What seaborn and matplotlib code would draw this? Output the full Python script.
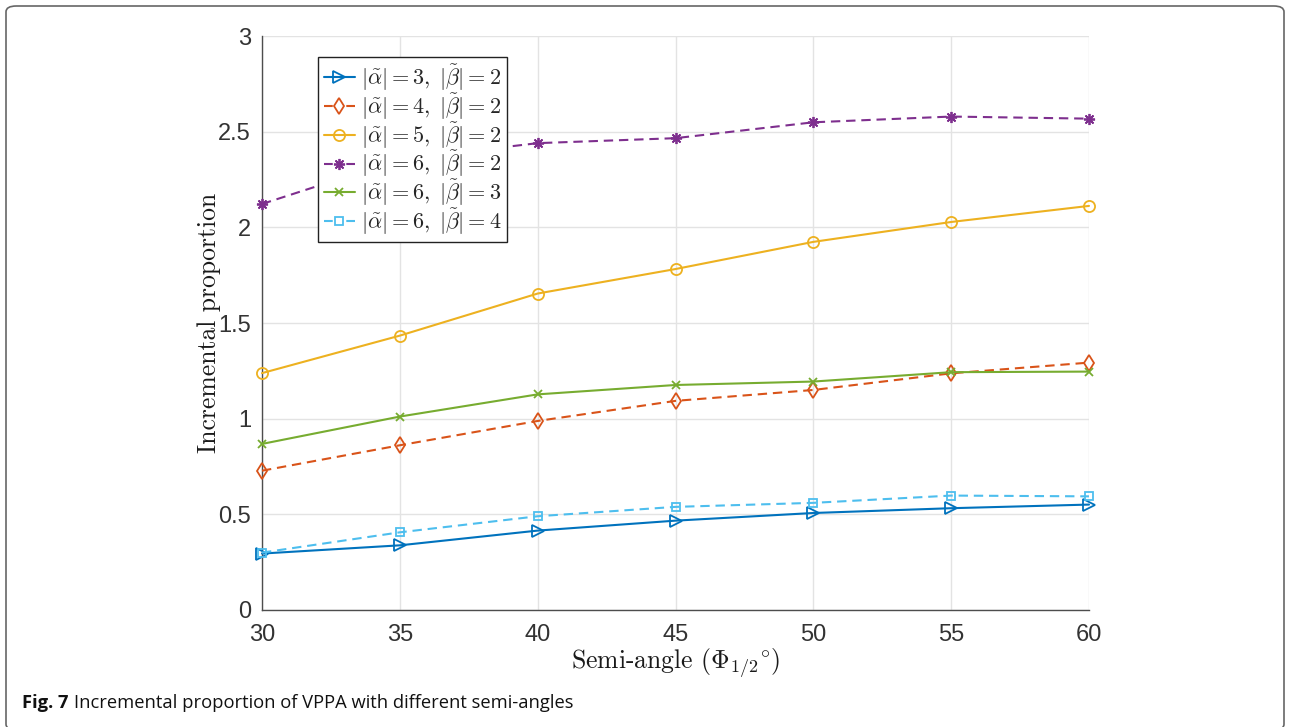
import numpy as np
import pandas as pd
import matplotlib
matplotlib.use("Agg")
import matplotlib.pyplot as plt
import seaborn as sns
from matplotlib.patches import FancyBboxPatch

# ---- data ----
angles = [30, 35, 40, 45, 50, 55, 60]
a3_b2 = [0.295, 0.338, 0.415, 0.467, 0.507, 0.532, 0.551]
a4_b2 = [0.728, 0.861, 0.988, 1.093, 1.150, 1.237, 1.293]
a5_b2 = [1.238, 1.434, 1.654, 1.782, 1.924, 2.028, 2.112]
a6_b2 = [2.122, 2.355, 2.440, 2.466, 2.549, 2.579, 2.568]
a6_b3 = [0.868, 1.011, 1.127, 1.176, 1.194, 1.243, 1.246]
a6_b4 = [0.300, 0.406, 0.490, 0.539, 0.560, 0.598, 0.594]

labels = [r'$|\tilde{\alpha}| = 3,\;|\tilde{\beta}| = 2$',
          r'$|\tilde{\alpha}| = 4,\;|\tilde{\beta}| = 2$',
          r'$|\tilde{\alpha}| = 5,\;|\tilde{\beta}| = 2$',
          r'$|\tilde{\alpha}| = 6,\;|\tilde{\beta}| = 2$',
          r'$|\tilde{\alpha}| = 6,\;|\tilde{\beta}| = 3$',
          r'$|\tilde{\alpha}| = 6,\;|\tilde{\beta}| = 4$']
series = [a3_b2, a4_b2, a5_b2, a6_b2, a6_b3, a6_b4]
xticks = [30, 35, 40, 45, 50, 55, 60]
yticks = [0, 0.5, 1, 1.5, 2, 2.5, 3]
ytick_labels = ['0', '0.5', '1', '1.5', '2', '2.5', '3']

# ---- styles ----
colors = ['#0072BD', '#D95319', '#EDB120', '#7E2F8E', '#77AC30', '#4DBEEE']
markers = ['>', 'd', 'o', (8, 2, 0), 'x', 's']
msizes = [8, 8.5, 8, 8, 6, 6]
dash = (0, (4.5, 2.8))
styles = ['-', dash, '-', dash, '-', dash]
dashed = [False, True, False, True, False, True]

sns.set_style("white")
plt.rcParams['font.family'] = ['Liberation Sans', 'DejaVu Sans']
plt.rcParams['mathtext.fontset'] = 'cm'

fig = plt.figure(figsize=(12.9, 7.27), dpi=100)
W, H = 1290, 727
ax = fig.add_axes([262 / W, 1 - 610 / H, 827 / W, 574 / H])

df = pd.DataFrame({'angle': angles})
for i, (vals, lab) in enumerate(zip(series, labels)):
    df['val'] = vals
    sns.lineplot(data=df, x='angle', y='val', ax=ax, color=colors[i],
                 marker=markers[i], markersize=msizes[i], linestyle=styles[i],
                 linewidth=1.5, markerfacecolor='none', markeredgecolor=colors[i],
                 markeredgewidth=1.3, label=lab, clip_on=False, zorder=3)

ax.set_xlim(30, 60)
ax.set_ylim(0, 3)
ax.set_xticks(xticks)
ax.set_yticks(yticks)
ax.set_yticklabels(ytick_labels)
ax.grid(True, color='#e3e3e3', linewidth=1.0)
ax.set_axisbelow(True)
for s in ['top', 'right']:
    ax.spines[s].set_visible(False)
for s in ['left', 'bottom']:
    ax.spines[s].set_color('#4d4d4d')
    ax.spines[s].set_linewidth(1.0)
ax.tick_params(direction='in', length=7, width=1.0, color='#4d4d4d',
               labelsize=17, labelcolor='#333333', pad=8)
ax.tick_params(axis='x', pad=10)

ax.set_xlabel(r'Semi-angle ($\Phi_{1/2}{}^{\circ}$)', fontfamily='cmr10',
              fontsize=18.5, color='#1a1a1a', labelpad=1)
ax.set_ylabel('Incremental proportion', fontfamily='cmr10',
              fontsize=18.5, color='#1a1a1a', labelpad=-2)

leg = ax.legend(loc='upper left', bbox_to_anchor=(56 / 827, 1 - 21 / 574),
                borderaxespad=0, fontsize=16, frameon=True, fancybox=False,
                framealpha=1, edgecolor='#222222', handlelength=1.4,
                handletextpad=0.3, labelspacing=-0.08, borderpad=0.25)
leg.get_frame().set_linewidth(1.0)
for ln, d in zip(leg.get_lines(), dashed):
    if d:
        ln.set_linestyle((0, (4.2, 6.5)))

# outer frame
frame = FancyBboxPatch((6 / W, -3 / H), (1284 - 6) / W, (721 + 3) / H,
                       boxstyle='round,pad=0,rounding_size=0.008',
                       transform=fig.transFigure, fill=False,
                       edgecolor='#666666', linewidth=1.2)
fig.patches.append(frame)

# caption
t1 = fig.text(22 / W, 1 - 703 / H, 'Fig. 7', fontsize=13.2, fontweight='bold',
              fontfamily='Open Sans', va='center', ha='left', color='#111111')
fig.canvas.draw()
bb = t1.get_window_extent()
fig.text(bb.x1 / W + 5 / W, 1 - 703 / H,
         'Incremental proportion of VPPA with different semi-angles',
         fontsize=13.2, fontfamily='Open Sans', va='center', ha='left',
         color='#111111')

fig.savefig('out.png', dpi=100)
